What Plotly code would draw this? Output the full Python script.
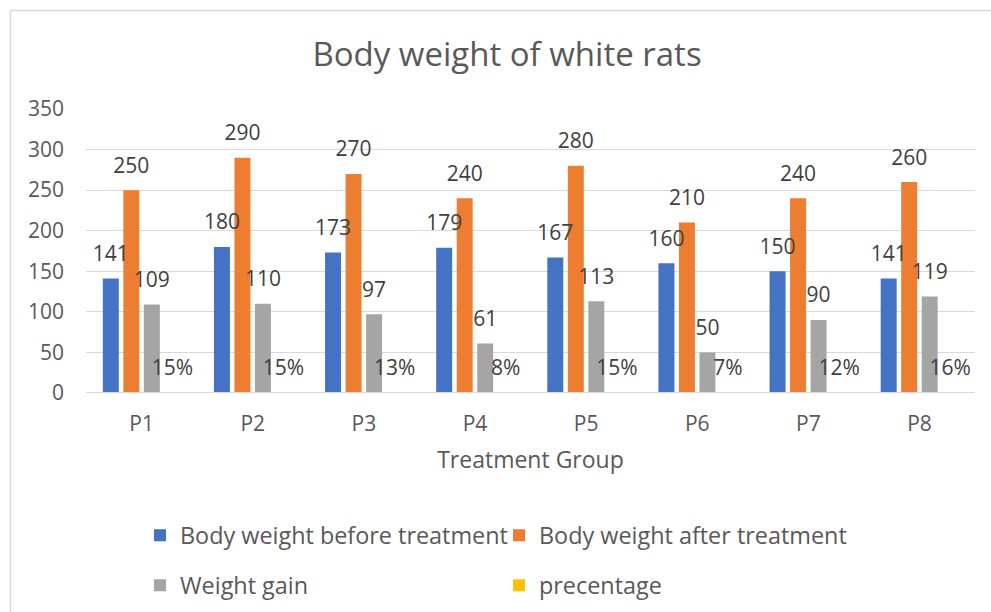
import plotly.graph_objects as go

# Treatment groups and measured values
groups = ["P1", "P2", "P3", "P4", "P5", "P6", "P7", "P8"]
weight_before = [141, 180, 173, 179, 167, 160, 150, 141]
weight_after = [250, 290, 270, 240, 280, 210, 240, 260]
weight_gain = [109, 110, 97, 61, 113, 50, 90, 119]
percentage = [0.15, 0.15, 0.13, 0.08, 0.15, 0.07, 0.12, 0.16]

series_names = [
    "Body weight before treatment",
    "Body weight after treatment",
    "Weight gain",
    "precentage",
]
series_values = [weight_before, weight_after, weight_gain, percentage]
series_colors = ["#4472C4", "#ED7D31", "#A5A5A5", "#FFC000"]
series_formats = ["%{text:d}", "%{text:d}", "%{text:d}", "%{text:.0%}"]
series_legends = ["legend", "legend", "legend2", "legend2"]

FONT = "Open Sans"
LABEL_LIFT = 10.5  # extra room between bar top and its value label, in axis units

fig = go.Figure()

# visible bars
for i, (name, vals, color, lg) in enumerate(
    zip(series_names, series_values, series_colors, series_legends)
):
    fig.add_trace(go.Bar(
        x=groups, y=vals, name=name, offsetgroup=f"g{i}", legend=lg,
        marker=dict(color=color, line=dict(width=0)),
        hoverinfo="skip",
    ))

# transparent risers carrying the value labels, drawn above every bar
for i, (vals, fmt) in enumerate(zip(series_values, series_formats)):
    fig.add_trace(go.Bar(
        x=groups, y=[LABEL_LIFT] * len(vals), base=vals, offsetgroup=f"g{i}",
        marker=dict(color="rgba(0,0,0,0)", line=dict(width=0)),
        text=vals, texttemplate=fmt, textposition="outside",
        textangle=0, constraintext="none", cliponaxis=False,
        textfont=dict(family=FONT, size=21, color="#404040"),
        showlegend=False, hoverinfo="skip",
    ))

W, H = 991, 612
L, R, T, B = 86, 16, 109, 219
pw, ph = W - L - R, H - T - B


def px_x(x):
    return (x - L) / pw


def px_y(y):
    return (H - B - y) / ph


legend_common = dict(
    orientation="h", xanchor="left", yanchor="top",
    font=dict(family=FONT, size=23.4, color="#595959"),
    bgcolor="rgba(0,0,0,0)", borderwidth=0,
    entrywidthmode="pixels", entrywidth=314,
    itemclick=False, itemdoubleclick=False,
)

fig.update_layout(
    width=W, height=H,
    margin=dict(l=L, r=R, t=T, b=B, pad=0, autoexpand=False),
    paper_bgcolor="white", plot_bgcolor="white",
    barmode="group", bargap=0.262, bargroupgap=0.22,
    font=dict(family=FONT, color="#595959"),
    title=dict(
        text="Body weight of white rats",
        font=dict(family=FONT, size=33, color="#595959"),
        x=507 / W, xref="container", xanchor="center",
        y=1 - 54 / H, yref="container", yanchor="middle",
    ),
    xaxis=dict(
        type="category", automargin=False,
        showgrid=False, showline=False,
        ticks="", ticklabelstandoff=16,
        tickfont=dict(family=FONT, size=21, color="#595959"),
        title=dict(text="Treatment Group", standoff=15,
                   font=dict(family=FONT, size=23, color="#595959")),
    ),
    yaxis=dict(
        range=[0, 350], dtick=50, tick0=0, automargin=False,
        showgrid=True, gridcolor="#D9D9D9", gridwidth=1.3,
        zeroline=False,
        showline=False, ticks="", ticklabelstandoff=21,
        tickfont=dict(family=FONT, size=21, color="#595959"),
    ),
    legend=dict(legend_common, x=px_x(140), y=px_y(513.5)),
    legend2=dict(legend_common, x=px_x(140), y=px_y(563.5)),
    shapes=[
        # category axis baseline, drawn over the bar feet
        dict(type="line", xref="paper", yref="y", layer="above",
             x0=0, x1=1, y0=0, y1=0,
             line=dict(color="#D9D9D9", width=2)),
        # chart-area frame (left and top edges)
        dict(type="line", xref="paper", yref="paper",
             x0=px_x(10.5), x1=px_x(W + 5), y0=px_y(10.5), y1=px_y(10.5),
             line=dict(color="#D9D9D9", width=1.5)),
        dict(type="line", xref="paper", yref="paper",
             x0=px_x(10.5), x1=px_x(10.5), y0=px_y(10.5), y1=px_y(H + 5),
             line=dict(color="#D9D9D9", width=1.5)),
    ],
)

fig.write_html("out.html")
